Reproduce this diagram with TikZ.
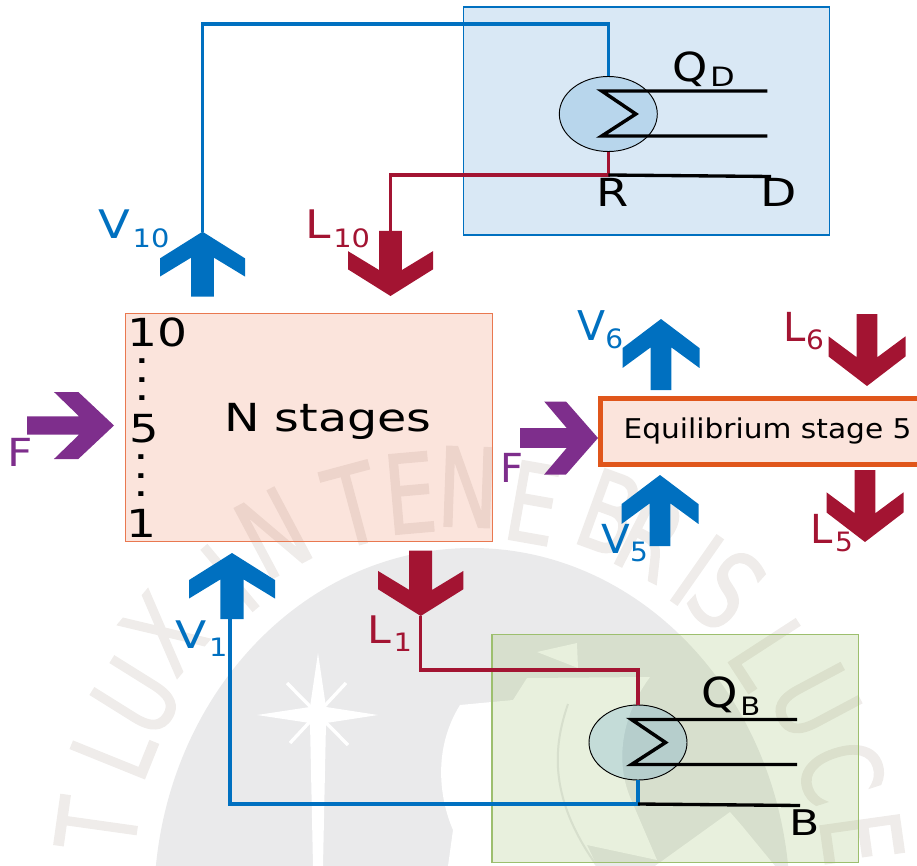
\documentclass[tikz,border=0pt]{standalone}
\usepackage{fontspec}
\setmainfont{DejaVu Sans}
\newfontfamily\sealfont[RawFeature={embolden=1.5}]{DejaVu Sans}
\usepackage{tikz}
\usetikzlibrary{shapes.geometric}
\definecolor{vapblue}{HTML}{0070C0}
\definecolor{liqred}{HTML}{A31432}
\definecolor{feedpurple}{HTML}{7E2E8C}
\definecolor{stageorange}{HTML}{E0561B}
\definecolor{boxorange}{HTML}{E97850}
\definecolor{boxblue}{HTML}{418CCD}
\definecolor{boxgreen}{HTML}{8CB455}
\definecolor{drumblue}{HTML}{348EC8}
\definecolor{wmdome}{HTML}{EAEAEB}
\definecolor{wmletter}{HTML}{EFECEA}
\newcommand{\xs}[2]{\scalebox{#1}[1]{#2}}
\newcommand{\subgap}{2pt}
\newcommand{\subdrop}{6.2pt}
\newcommand{\stream}[6]{\xs{#3}{\fontsize{#2}{#2}\selectfont #1}\kern\subgap\raisebox{-\subdrop}{\xs{#6}{\fontsize{#5}{#5}\selectfont #4}}}
% chevron arrow: name, tail x, tail y, rotation, length, half width
\newcommand{\flow}[7]{%
  \begin{scope}[shift={(#2,#3)}, rotate=#4]
    \fill[#7] (0,-#5) -- (#6,-0.59*#5) -- (#6,-0.31*#5) -- (0.27*#6,-0.6*#5) -- (0.27*#6,0)
      -- (-0.27*#6,0) -- (-0.27*#6,-0.6*#5) -- (-#6,-0.31*#5) -- (-#6,-0.59*#5) -- cycle;
    \coordinate (#1) at (0,-#5);
    \coordinate (#1t) at (0,0);
  \end{scope}}
\newcommand{\coil}[1]{\draw[coilline, shift={(#1.center)}] (159,-23) -- (-6.5,-23) -- (27.5,0) -- (-6.5,22) -- (159,22);}

\begin{document}
\begin{tikzpicture}[
    x=0.75pt, y=-0.75pt,
    txt/.style={inner sep=0pt, anchor=base west},
    bigfont/.style={font=\fontsize{29}{31}\selectfont},
    unitbox/.style={rectangle, minimum width=275pt, minimum height=171pt, inner sep=0pt, fill opacity=0.2},
    drum/.style={ellipse, draw=black, line width=0.7pt, fill=drumblue, fill opacity=0.2,
                 minimum width=73.5pt, minimum height=56.25pt, inner sep=0pt},
    vapline/.style={draw=vapblue, line width=2.5pt},
    liqline/.style={draw=liqred, line width=2.5pt},
    prodline/.style={draw=black, line width=2.5pt},
    coilline/.style={draw=black, line width=2.6pt},
    wmark/.style={text=wmletter, inner sep=0pt, font=\sealfont\fontsize{82}{82}\selectfont}
]
  \useasboundingbox (0,0) rectangle (917,866);

  % seal behind the diagram
  \foreach \ch/\px/\py/\rr [count=\i] in {T/97/825/82, L/113/750/68, U/137/697/58, X/163/633/50, I/230/578/40, N/273/533/28,
      T/353/505/15, E/410/493/5, N/468/487/-2, E/533/503/-10, B/610/513/-20, R/651/537/-27, I/697/570/-35,
      S/727/590/-42, L/770/653/-57, U/815/702/-62, C/841/772/-72, E/862/838/-82}
    \node[wmark, rotate=\rr] (seal\i) at (\px,\py) {\xs{0.75}{\ch}};
  \fill[wmdome] (472,905) ellipse [x radius=318, y radius=357];
  \fill[white] (318,653) -- (326,707) -- (378,715) -- (326,723) -- (323,866) -- (313,866)
    -- (310,723) -- (257,715) -- (310,707) -- cycle;
  \draw[white, line width=2.5pt] (287,683) -- (348,745) (290,743) -- (346,683);
  \fill[white] (460,705) -- (513,700) -- (527,678) -- (650,677) .. controls (622,715) and (615,760) .. (630,797)
    -- (657,860) -- (587,845) -- (597,866) -- (448,866) -- (453,830) .. controls (440,800) and (432,750) .. cycle;
  \fill[white] (537,652) -- (577,643) -- (578,668) -- cycle;
  \fill[white] (655,866) -- (730,812) -- (743,827) -- (775,866) -- cycle;
  \draw[wmdome, line width=1.5pt] (568,704) .. controls (552,750) and (550,800) .. (597,866);
  \draw[white, line width=1.5pt] (456,840) -- (473,815) -- (484,830) -- (490,866);

  \node[unitbox, draw=vapblue, line width=0.8pt, fill=boxblue] (cond) at (646.5,121) {};
  \node[unitbox, draw=boxgreen!85!white, line width=1pt, fill=boxgreen] (bot) at (675.25,748.75) {};
  \node[unitbox, draw=boxorange, line width=0.8pt, fill=boxorange] (col) at (309.25,427.25) {};
  \node[unitbox, draw=stageorange, line width=3.75pt, fill=boxorange, minimum width=250.5pt, minimum height=49.5pt] (stage) at (767.5,431.5) {};
  \node[drum] (qd) at (608.3,114) {};
  \node[drum] (qb) at (638,742.5) {};

  \flow{v10}{202.5}{296.7}{0}{65}{42.5}{vapblue}
  \flow{l10}{390.5}{231}{180}{65}{42.5}{liqred}
  \flow{v1}{232}{619}{0}{66}{43}{vapblue}
  \flow{l1}{420.7}{550.7}{180}{65.3}{42.7}{liqred}
  \flow{fa}{27}{425.5}{-90}{87}{33.5}{feedpurple}
  \flow{fb}{520}{438}{-90}{78}{36.5}{feedpurple}
  \flow{v6}{661}{390}{0}{71}{38.5}{vapblue}
  \flow{l6}{867}{314}{180}{72}{38.5}{liqred}
  \flow{v5}{660}{546}{0}{71}{38.5}{vapblue}
  \flow{l5}{865}{470}{180}{72}{38.5}{liqred}

  \coordinate (vtop) at (202.5,24);
  \coordinate (rjoin) at (608.3,175);
  \coordinate (dout) at (771,176.5);
  \coordinate (lturn) at (638,670);
  \coordinate (bjoin) at (638,804);
  \coordinate (bout) at (800,805.5);
  \coordinate (vbot) at (230,804);
  \coordinate (v1in) at (230,619);

  \draw[vapline] (qd.north) |- (vtop) -- (v10);
  \draw[liqline] (qd.south) -- (rjoin) -| (l10t);
  \draw[prodline] (rjoin) -- (dout);
  \draw[liqline] (l1) |- (lturn) -- (qb.north);
  \draw[vapline] (qb.south) -- (bjoin) -- (vbot) -- (v1in);
  \draw[prodline] (bjoin) -- (bout);
  \coil{qd}
  \coil{qb}

  \node[txt, bigfont] (ten) at (127,346) {\xs{1.22}{10}};
  \foreach \py in {363,382,400}
    \node[txt, bigfont] (dotu\py) at (134,\py) {\xs{1.28}{.}};
  \node[txt, bigfont] (five) at (129,442) {\xs{1.2}{5}};
  \foreach \py in {459,478,496}
    \node[txt, bigfont] (dotl\py) at (133,\py) {\xs{1.28}{.}};
  \node[txt, bigfont] (one) at (126,537) {\xs{1.22}{1}};
  \node[txt, bigfont] (nst) at (224,431) {\xs{1.23}{N stages}};
  \node[inner sep=0pt, font=\fontsize{20.4}{22}\selectfont] (stagetxt) at (767.5,431) {\xs{1.09}{Equilibrium stage 5}};

  \node[txt, text=vapblue] (v10lab) at (98,239) {\stream{V}{29.5}{1.18}{10}{19}{1.14}};
  \node[txt, text=liqred] (l10lab) at (305,239) {\stream{L}{29.5}{1.16}{10}{19}{1.14}};
  \node[txt, text=vapblue] (v1lab) at (175,648) {\stream{V}{28.5}{1.2}{1}{19}{1.14}};
  \node[txt, text=liqred] (l1lab) at (367,643) {\stream{L}{28.5}{1.12}{1}{19}{1.14}};
  \node[txt, text=feedpurple, font=\fontsize{29}{30}\selectfont] (falab) at (7,466) {\xs{1.14}{F}};
  \node[txt, text=feedpurple, font=\fontsize{30}{30}\selectfont] (fblab) at (500,482) {F};
  \node[txt, text=vapblue] (v6lab) at (577,340) {\def\subgap{0pt}\stream{V}{30.75}{1}{6}{20}{1.05}};
  \node[txt, text=liqred] (l6lab) at (783,341) {\def\subgap{0.5pt}\stream{L}{30}{1}{6}{20}{1.05}};
  \node[txt, text=vapblue] (v5lab) at (601,553) {\def\subgap{0pt}\stream{V}{30}{1.05}{5}{20}{1.05}};
  \node[txt, text=liqred] (l5lab) at (810,543) {\stream{L}{30}{1}{5}{20}{1.05}};

  \node[txt] (qdlab) at (672,82) {\def\subdrop{3.7pt}\stream{Q}{30}{1.12}{D}{20}{1.2}};
  \node[txt] (qblab) at (701,707) {\stream{Q}{31}{1.12}{B}{19}{1.15}};
  \node[txt, bigfont] (rlab) at (596,207) {\xs{1.2}{R}};
  \node[txt, bigfont] (dlab) at (760,207) {\xs{1.22}{D}};
  \node[txt, font=\fontsize{26.5}{28}\selectfont] (blab) at (789,835) {\xs{1.25}{B}};
\end{tikzpicture}
\end{document}
